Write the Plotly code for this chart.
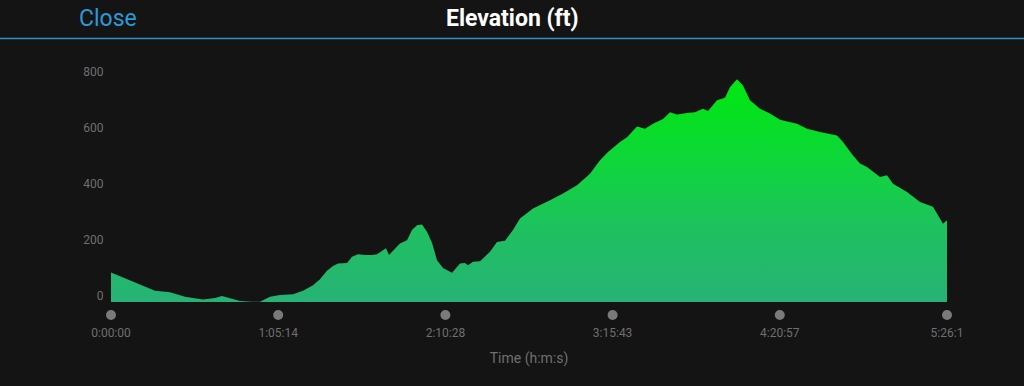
import plotly.graph_objects as go

# ---- data ----
time_s = [0, 445, 609, 1030, 1381, 1732, 2154, 2435, 2598, 2786, 3020, 3301, 3488,
          3722, 3956, 4260, 4495, 4729, 4892, 5056, 5197, 5314, 5525, 5642, 5782,
          5946, 6110, 6227, 6367, 6437, 6508, 6648, 6765, 6929, 7046, 7163, 7280,
          7397, 7514, 7631, 7772, 7982, 8170, 8287, 8357, 8474, 8638, 8872, 9036,
          9223, 9410, 9574, 9879, 10277, 10581, 10909, 11213, 11447, 11634, 11915,
          12079, 12313, 12500, 12688, 12922, 13086, 13249, 13484, 13671, 13858,
          13975, 14186, 14373, 14490, 14654, 14794, 14958, 15192, 15427, 15661,
          16059, 16293, 16597, 16995, 17135, 17369, 17533, 17697, 18002, 18165,
          18306, 18634, 18938, 19242, 19476, 19570]
elevation_ft = [84, 57, 46, 19, 14, -2, -12, -7, 0, -7, -17, -20, -20,
                -2, 4, 7, 19, 39, 60, 90, 107, 116, 118, 140, 149,
                146, 146, 149, 164, 170, 146, 170, 187, 199, 235, 252, 255,
                229, 190, 128, 100, 83, 116, 118, 110, 122, 124, 158, 193,
                197, 235, 276, 312, 341, 365, 395, 436, 484, 513, 549,
                566, 604, 596, 614, 631, 655, 647, 652, 655, 667,
                659, 697, 706, 744, 772, 750, 697, 667, 650, 628,
                614, 596, 584, 572, 549, 501, 472, 460, 424, 430,
                400, 371, 335, 318, 258, 270]
x_tick_vals = [0, 3914, 7828, 11742, 15656, 19570]
x_tick_text = ["0:00:00", "1:05:14", "2:10:28", "3:15:43", "4:20:57", "5:26:1"]
y_tick_vals = [0, 200, 400, 600, 800]
floor_ft = -21
top_ft = 830

BG = "#141414"
GRAY = "#6f6f6f"

fig = go.Figure()
fig.add_trace(go.Scatter(x=[time_s[0], time_s[-1]], y=[floor_ft, floor_ft], mode="lines",
                         line=dict(width=0, color=BG), hoverinfo="skip", showlegend=False))
fig.add_trace(go.Scatter(
    x=time_s, y=elevation_ft, mode="lines", fill="tonexty",
    line=dict(width=0, color="#1fc95a"),
    fillgradient=dict(type="vertical", start=floor_ft, stop=max(elevation_ft),
                      colorscale=[[0, "#26b275"], [0.3, "#20bf62"], [0.6, "#10d43f"],
                                  [0.85, "#05e01f"], [1, "#00e812"]]),
    showlegend=False))

x_span = time_s[-1] - time_s[0]
shapes = []
for tv in x_tick_vals:
    shapes.append(dict(type="circle", xref="paper", yref="paper", xsizemode="pixel",
                       ysizemode="pixel", xanchor=(tv - time_s[0]) / x_span, yanchor=0,
                       x0=-5, x1=5, y0=-18, y1=-8, fillcolor="#7a7a7a",
                       line=dict(width=0), layer="above"))

fig.update_layout(
    width=1024, height=386,
    margin=dict(l=111, r=77, t=63, b=84),
    paper_bgcolor=BG, plot_bgcolor=BG,
    font=dict(family="Roboto, Open Sans, sans-serif", color=GRAY),
    shapes=shapes,
    xaxis=dict(range=[0, time_s[-1]], tickvals=x_tick_vals, ticktext=x_tick_text,
               showgrid=False, zeroline=False, showline=False,
               ticks="outside", ticklen=20, tickcolor="rgba(0,0,0,0)",
               tickfont=dict(size=12, color=GRAY),
               title=dict(text="Time (h:m:s)", font=dict(size=14, color=GRAY), standoff=13)),
    yaxis=dict(range=[floor_ft, top_ft], tickvals=y_tick_vals,
               showgrid=False, zeroline=False, showline=False,
               ticks="outside", ticklen=4, tickcolor="rgba(0,0,0,0)",
               tickfont=dict(size=12, color=GRAY)),
    annotations=[
        dict(text="Close", xref="paper", yref="paper", x=(108 - 111) / 836, y=1 + (63 - 19) / 239,
             showarrow=False, xanchor="center", yanchor="middle",
             font=dict(size=23, color="#2a9ad8", family="Roboto, sans-serif")),
        dict(text="<b>Elevation (ft)</b>", xref="paper", yref="paper",
             x=(512 - 111) / 836, y=1 + (63 - 19) / 239,
             showarrow=False, xanchor="center", yanchor="middle",
             font=dict(size=23, color="#ffffff", family="Roboto, sans-serif")),
    ],
)
fig.add_shape(type="line", xref="paper", yref="paper", x0=-111 / 836, x1=1 + 77 / 836,
              y0=1 + (63 - 38.5) / 239, y1=1 + (63 - 38.5) / 239,
              line=dict(color="#2f8fc9", width=1.5))

fig.write_html("out.html")
